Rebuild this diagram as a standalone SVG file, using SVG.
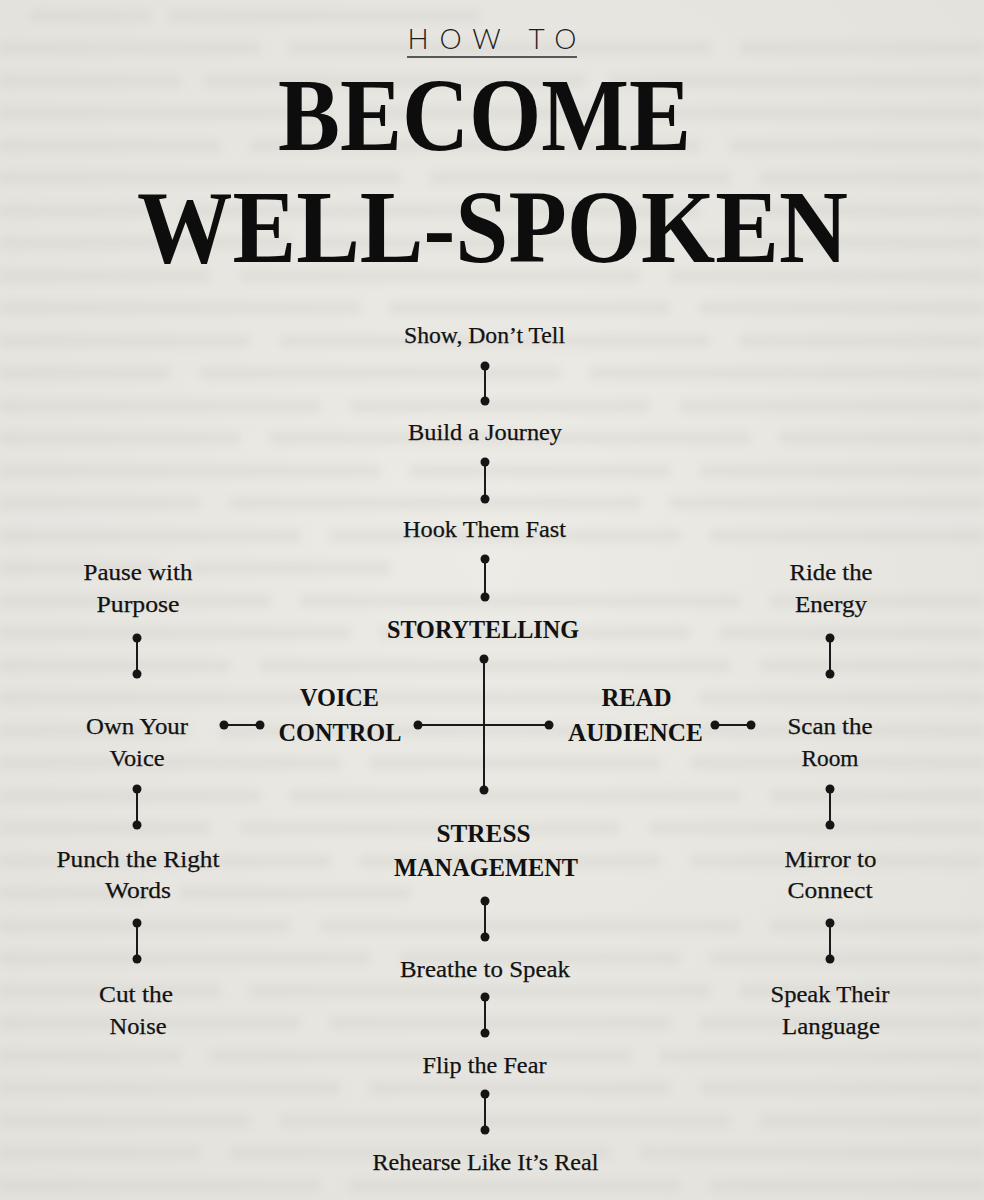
<svg xmlns="http://www.w3.org/2000/svg" width="984" height="1200" viewBox="0 0 984 1200">
  <defs>
    <radialGradient id="paper" cx="50%" cy="45%" r="75%">
      <stop offset="0" stop-color="#ecebe6"/>
      <stop offset="1" stop-color="#e3e1dc"/>
    </radialGradient>
    <filter id="blur" x="-5%" y="-50%" width="110%" height="200%">
      <feGaussianBlur stdDeviation="4"/>
    </filter>
    <marker id="dot" viewBox="0 0 10 10" refX="5" refY="5" markerWidth="10" markerHeight="10" markerUnits="userSpaceOnUse">
      <circle cx="5" cy="5" r="4.5" fill="#151515"/>
    </marker>
    <style>
      .title { font-family: "Liberation Serif", "Times New Roman", serif; font-weight: bold; fill: #0d0d0d; }
      .howto { font-family: Lato, "Open Sans", "Liberation Sans", sans-serif; font-weight: 300; font-size: 28px; fill: #1c1c1c; }
      .lbl { font-family: "Liberation Serif", "Times New Roman", serif; font-size: 24px; fill: #121212; text-anchor: middle; stroke: #121212; stroke-width: 0.25; }
      .hub { font-family: "Liberation Serif", "Times New Roman", serif; font-size: 25px; font-weight: bold; fill: #111; text-anchor: middle; }
      .con { stroke: #1a1a1a; stroke-width: 2; fill: none; marker-start: url(#dot); marker-end: url(#dot); }
      .tex rect { fill: #cfcdc8; }
    </style>
  </defs>

  <!-- paper background -->
  <rect x="0" y="0" width="984" height="1200" fill="url(#paper)"/>
  <g filter="url(#blur)" class="tex" opacity="0.35">
    <rect x="30" y="10" width="120" height="12"/><rect x="170" y="10" width="310" height="12"/>
    <rect x="0" y="42" width="260" height="12"/><rect x="290" y="42" width="420" height="12"/><rect x="740" y="42" width="244" height="12"/>
    <rect x="0" y="75" width="180" height="12"/><rect x="205" y="75" width="380" height="12"/><rect x="610" y="75" width="374" height="12"/>
    <rect x="0" y="107" width="330" height="12"/><rect x="360" y="107" width="250" height="12"/><rect x="640" y="107" width="344" height="12"/>
    <rect x="0" y="140" width="220" height="12"/><rect x="250" y="140" width="450" height="12"/><rect x="730" y="140" width="254" height="12"/>
    <rect x="0" y="172" width="400" height="12"/><rect x="430" y="172" width="300" height="12"/><rect x="760" y="172" width="224" height="12"/>
    <rect x="0" y="205" width="150" height="12"/><rect x="180" y="205" width="520" height="12"/><rect x="730" y="205" width="254" height="12"/>
    <rect x="0" y="237" width="290" height="12"/><rect x="320" y="237" width="340" height="12"/><rect x="690" y="237" width="294" height="12"/>
    <rect x="0" y="270" width="210" height="12"/><rect x="240" y="270" width="400" height="12"/><rect x="670" y="270" width="314" height="12"/>
    <rect x="0" y="302" width="360" height="12"/><rect x="390" y="302" width="280" height="12"/><rect x="700" y="302" width="284" height="12"/>
    <rect x="0" y="335" width="250" height="12"/><rect x="280" y="335" width="430" height="12"/><rect x="740" y="335" width="244" height="12"/>
    <rect x="0" y="367" width="170" height="12"/><rect x="200" y="367" width="360" height="12"/><rect x="590" y="367" width="394" height="12"/>
    <rect x="0" y="400" width="320" height="12"/><rect x="350" y="400" width="300" height="12"/><rect x="680" y="400" width="304" height="12"/>
    <rect x="0" y="432" width="240" height="12"/><rect x="270" y="432" width="480" height="12"/><rect x="780" y="432" width="204" height="12"/>
    <rect x="0" y="465" width="380" height="12"/><rect x="410" y="465" width="260" height="12"/><rect x="700" y="465" width="284" height="12"/>
    <rect x="0" y="497" width="200" height="12"/><rect x="230" y="497" width="410" height="12"/><rect x="670" y="497" width="314" height="12"/>
    <rect x="0" y="530" width="300" height="12"/><rect x="330" y="530" width="350" height="12"/><rect x="710" y="530" width="274" height="12"/>
    <rect x="0" y="562" width="160" height="12"/><rect x="190" y="562" width="200" height="12"/>
    <rect x="0" y="595" width="270" height="12"/><rect x="300" y="595" width="440" height="12"/><rect x="770" y="595" width="214" height="12"/>
    <rect x="0" y="627" width="350" height="12"/><rect x="380" y="627" width="310" height="12"/><rect x="720" y="627" width="264" height="12"/>
    <rect x="0" y="660" width="230" height="12"/><rect x="260" y="660" width="470" height="12"/><rect x="760" y="660" width="224" height="12"/>
    <rect x="0" y="692" width="310" height="12"/><rect x="340" y="692" width="330" height="12"/><rect x="700" y="692" width="284" height="12"/>
    <rect x="0" y="725" width="190" height="12"/><rect x="220" y="725" width="400" height="12"/><rect x="650" y="725" width="334" height="12"/>
    <rect x="0" y="757" width="340" height="12"/><rect x="370" y="757" width="290" height="12"/><rect x="690" y="757" width="294" height="12"/>
    <rect x="0" y="790" width="260" height="12"/><rect x="290" y="790" width="450" height="12"/><rect x="770" y="790" width="214" height="12"/>
    <rect x="0" y="822" width="210" height="12"/><rect x="240" y="822" width="380" height="12"/><rect x="650" y="822" width="334" height="12"/>
    <rect x="0" y="855" width="330" height="12"/><rect x="360" y="855" width="300" height="12"/><rect x="690" y="855" width="294" height="12"/>
    <rect x="0" y="887" width="150" height="12"/><rect x="180" y="887" width="230" height="12"/>
    <rect x="0" y="920" width="290" height="12"/><rect x="320" y="920" width="420" height="12"/><rect x="770" y="920" width="214" height="12"/>
    <rect x="0" y="952" width="370" height="12"/><rect x="400" y="952" width="280" height="12"/><rect x="710" y="952" width="274" height="12"/>
    <rect x="0" y="985" width="220" height="12"/><rect x="250" y="985" width="460" height="12"/><rect x="740" y="985" width="244" height="12"/>
    <rect x="0" y="1017" width="300" height="12"/><rect x="330" y="1017" width="340" height="12"/><rect x="700" y="1017" width="284" height="12"/>
    <rect x="0" y="1050" width="180" height="12"/><rect x="210" y="1050" width="420" height="12"/><rect x="660" y="1050" width="324" height="12"/>
    <rect x="0" y="1082" width="340" height="12"/><rect x="370" y="1082" width="300" height="12"/><rect x="700" y="1082" width="284" height="12"/>
    <rect x="0" y="1115" width="250" height="12"/><rect x="280" y="1115" width="450" height="12"/><rect x="760" y="1115" width="224" height="12"/>
    <rect x="0" y="1147" width="200" height="12"/><rect x="230" y="1147" width="380" height="12"/><rect x="640" y="1147" width="344" height="12"/>
    <rect x="0" y="1180" width="320" height="12"/><rect x="350" y="1180" width="330" height="12"/><rect x="710" y="1180" width="274" height="12"/>
  </g>

  <!-- title -->
  <g id="title">
    <text class="howto" x="492" y="49" text-anchor="middle" textLength="169" lengthAdjust="spacing">HOW TO</text>
    <line x1="407" y1="57" x2="577" y2="57" stroke="#2a2a2a" stroke-width="1.6"/>
    <text class="title" x="484.5" y="150" font-size="103" text-anchor="middle" textLength="413" lengthAdjust="spacingAndGlyphs">BECOME</text>
    <text class="title" x="492.5" y="262" font-size="103" text-anchor="middle" textLength="711" lengthAdjust="spacingAndGlyphs">WELL-SPOKEN</text>
  </g>

  <!-- connectors -->
  <g id="connectors">
    <line class="con" x1="485" y1="366" x2="485" y2="401"/>
    <line class="con" x1="485" y1="462" x2="485" y2="499"/>
    <line class="con" x1="485" y1="559" x2="485" y2="597"/>
    <line class="con" x1="484" y1="659" x2="484" y2="790"/>
    <line class="con" x1="418" y1="725" x2="549" y2="725"/>
    <line class="con" x1="224" y1="725" x2="260" y2="725"/>
    <line class="con" x1="715" y1="725" x2="751" y2="725"/>
    <line class="con" x1="137" y1="638" x2="137" y2="674"/>
    <line class="con" x1="137" y1="789" x2="137" y2="825"/>
    <line class="con" x1="137" y1="923" x2="137" y2="959"/>
    <line class="con" x1="830" y1="638" x2="830" y2="674"/>
    <line class="con" x1="830" y1="789" x2="830" y2="825"/>
    <line class="con" x1="830" y1="923" x2="830" y2="959"/>
    <line class="con" x1="485" y1="901" x2="485" y2="937"/>
    <line class="con" x1="485" y1="997" x2="485" y2="1033"/>
    <line class="con" x1="485" y1="1094" x2="485" y2="1130"/>
  </g>

  <!-- storytelling branch -->
  <g id="show-dont-tell"><text class="lbl" x="484.5" y="343" textLength="161" lengthAdjust="spacingAndGlyphs">Show, Don’t Tell</text></g>
  <g id="build-a-journey"><text class="lbl" x="485" y="440" textLength="154" lengthAdjust="spacingAndGlyphs">Build a Journey</text></g>
  <g id="hook-them-fast"><text class="lbl" x="484.5" y="537" textLength="163" lengthAdjust="spacingAndGlyphs">Hook Them Fast</text></g>

  <!-- hubs -->
  <g id="storytelling"><text class="hub" x="483" y="638" textLength="192" lengthAdjust="spacingAndGlyphs">STORYTELLING</text></g>
  <g id="voice-control">
    <text class="hub" x="339.5" y="706" textLength="79" lengthAdjust="spacingAndGlyphs">VOICE</text>
    <text class="hub" x="340" y="741" textLength="123" lengthAdjust="spacingAndGlyphs">CONTROL</text>
  </g>
  <g id="read-audience">
    <text class="hub" x="636.5" y="706" textLength="70" lengthAdjust="spacingAndGlyphs">READ</text>
    <text class="hub" x="635.5" y="741" textLength="135" lengthAdjust="spacingAndGlyphs">AUDIENCE</text>
  </g>
  <g id="stress-management">
    <text class="hub" x="483.5" y="842" textLength="94" lengthAdjust="spacingAndGlyphs">STRESS</text>
    <text class="hub" x="486" y="876" textLength="184" lengthAdjust="spacingAndGlyphs">MANAGEMENT</text>
  </g>

  <!-- voice control branch -->
  <g id="pause-with-purpose">
    <text class="lbl" x="138" y="580" textLength="109" lengthAdjust="spacingAndGlyphs">Pause with</text>
    <text class="lbl" x="138" y="612" textLength="83" lengthAdjust="spacingAndGlyphs">Purpose</text>
  </g>
  <g id="own-your-voice">
    <text class="lbl" x="137" y="734" textLength="102" lengthAdjust="spacingAndGlyphs">Own Your</text>
    <text class="lbl" x="137" y="766" textLength="55" lengthAdjust="spacingAndGlyphs">Voice</text>
  </g>
  <g id="punch-the-right-words">
    <text class="lbl" x="138" y="867" textLength="163" lengthAdjust="spacingAndGlyphs">Punch the Right</text>
    <text class="lbl" x="138" y="898" textLength="66" lengthAdjust="spacingAndGlyphs">Words</text>
  </g>
  <g id="cut-the-noise">
    <text class="lbl" x="136" y="1002" textLength="74" lengthAdjust="spacingAndGlyphs">Cut the</text>
    <text class="lbl" x="138" y="1034" textLength="57" lengthAdjust="spacingAndGlyphs">Noise</text>
  </g>

  <!-- read audience branch -->
  <g id="ride-the-energy">
    <text class="lbl" x="831" y="580" textLength="83" lengthAdjust="spacingAndGlyphs">Ride the</text>
    <text class="lbl" x="831" y="612" textLength="72" lengthAdjust="spacingAndGlyphs">Energy</text>
  </g>
  <g id="scan-the-room">
    <text class="lbl" x="830" y="734" textLength="85" lengthAdjust="spacingAndGlyphs">Scan the</text>
    <text class="lbl" x="830" y="766" textLength="57" lengthAdjust="spacingAndGlyphs">Room</text>
  </g>
  <g id="mirror-to-connect">
    <text class="lbl" x="830.5" y="867" textLength="92" lengthAdjust="spacingAndGlyphs">Mirror to</text>
    <text class="lbl" x="830" y="898" textLength="85" lengthAdjust="spacingAndGlyphs">Connect</text>
  </g>
  <g id="speak-their-language">
    <text class="lbl" x="830" y="1002" textLength="119" lengthAdjust="spacingAndGlyphs">Speak Their</text>
    <text class="lbl" x="831" y="1034" textLength="98" lengthAdjust="spacingAndGlyphs">Language</text>
  </g>

  <!-- stress management branch -->
  <g id="breathe-to-speak"><text class="lbl" x="485" y="977" textLength="170" lengthAdjust="spacingAndGlyphs">Breathe to Speak</text></g>
  <g id="flip-the-fear"><text class="lbl" x="484.5" y="1073" textLength="124" lengthAdjust="spacingAndGlyphs">Flip the Fear</text></g>
  <g id="rehearse-like-its-real"><text class="lbl" x="485.5" y="1170" textLength="226" lengthAdjust="spacingAndGlyphs">Rehearse Like It’s Real</text></g>
</svg>
